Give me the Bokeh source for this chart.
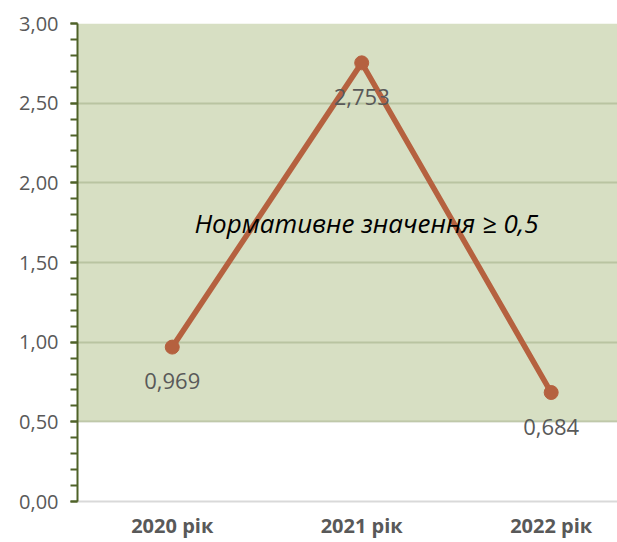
from bokeh.plotting import figure
from bokeh.models import (BoxAnnotation, SingleIntervalTicker, FixedTicker, CustomJSTickFormatter,
                          ColumnDataSource, Label, Range1d)
from bokeh.embed import file_html
from bokeh.resources import INLINE

categories = ["2020 рік", "2021 рік", "2022 рік"]
values = [0.969, 2.753, 0.684]
value_labels = ["0,969", "2,753", "0,684"]
threshold = 0.5
note = "Нормативне значення ≥ 0,5"

xs = list(range(len(categories)))
src = ColumnDataSource(dict(x=xs, y=values, lbl=value_labels))

p = figure(width=617, height=542, output_backend="svg", toolbar_location=None,
           x_range=Range1d(-0.5, 2.35), y_range=Range1d(0, 3),
           min_border_left=77, min_border_top=23, min_border_bottom=41, min_border_right=0)
p.outline_line_color = None
p.background_fill_color = "white"

band = BoxAnnotation(bottom=threshold, top=3, fill_color="#D7DFC3", fill_alpha=1.0,
                     line_color=None, level="image")
p.add_layout(band)

# grid
p.xgrid.grid_line_color = None
p.ygrid.grid_line_color = "#8C9A6E"
p.ygrid.grid_line_alpha = 0.4
p.ygrid.grid_line_width = 2

# y axis
p.yaxis.ticker = SingleIntervalTicker(interval=0.5, num_minor_ticks=5)
p.yaxis.formatter = CustomJSTickFormatter(code="return tick.toFixed(2).replace('.', ',');")
p.yaxis.axis_line_color = "#4F6228"
p.yaxis.axis_line_width = 2
p.yaxis.major_tick_line_color = "#4F6228"
p.yaxis.major_tick_line_width = 2
p.yaxis.minor_tick_line_color = "#4F6228"
p.yaxis.minor_tick_line_width = 2
p.yaxis.major_tick_in = 0
p.yaxis.major_tick_out = 7
p.yaxis.minor_tick_in = 0
p.yaxis.minor_tick_out = 7
p.yaxis.major_label_text_font = "Open Sans"
p.yaxis.major_label_text_font_size = "20px"
p.yaxis.major_label_text_color = "#595959"
p.yaxis.major_label_standoff = 12

# x axis
p.xaxis.ticker = FixedTicker(ticks=xs)
p.xaxis.major_label_overrides = {i: c for i, c in zip(xs, categories)}
p.xaxis.axis_line_color = "#D9D9D9"
p.xaxis.axis_line_width = 2
p.xaxis.major_tick_line_color = None
p.xaxis.minor_tick_line_color = None
p.xaxis.major_tick_out = 0
p.xaxis.minor_tick_out = 0
p.xaxis.major_label_text_font = "Open Sans"
p.xaxis.major_label_text_font_style = "bold"
p.xaxis.major_label_text_font_size = "20px"
p.xaxis.major_label_text_color = "#595959"
p.xaxis.major_label_standoff = 10

p.line("x", "y", source=src, line_color="#B5613F", line_width=5.5)
p.scatter("x", "y", source=src, size=14, fill_color="#B5613F", line_color="#B5613F")

p.text("x", "y", text="lbl", source=src, y_offset=34, text_align="center",
       text_baseline="middle", text_font_size="22px", text_color="#595959",
       text_font={"value": "Open Sans"})

p.add_layout(Label(x=1.025, y=1.75, text=note, text_align="center", text_baseline="middle",
                   text_font="Open Sans", text_font_style="italic", text_font_size="26px",
                   text_color="black"))

open("out.html", "w").write(file_html(p, INLINE))
